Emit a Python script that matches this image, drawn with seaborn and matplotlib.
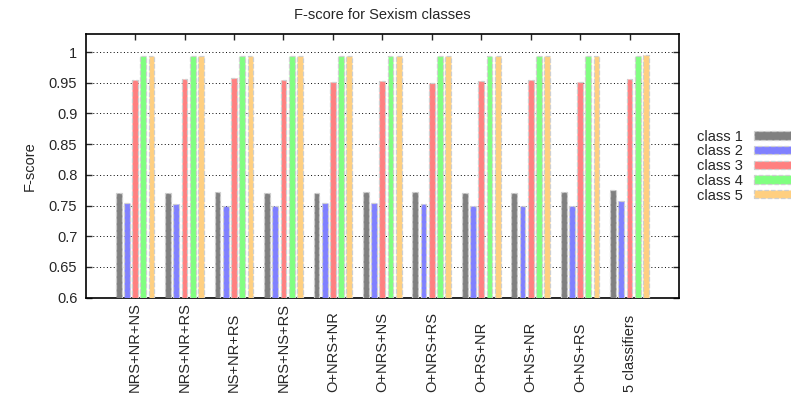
import matplotlib
matplotlib.use("Agg")
import matplotlib.pyplot as plt
import seaborn as sns
import pandas as pd
from matplotlib.patches import Patch

configs = ["NRS+NR+NS", "NRS+NR+RS", "NS+NR+RS", "NRS+NS+RS", "O+NRS+NR",
           "O+NRS+NS", "O+NRS+RS", "O+RS+NR", "O+NS+NR", "O+NS+RS", "5 classifiers"]
class1 = [0.770, 0.770, 0.772, 0.770, 0.770, 0.772, 0.772, 0.770, 0.770, 0.772, 0.775]
class2 = [0.754, 0.752, 0.750, 0.750, 0.755, 0.754, 0.752, 0.749, 0.750, 0.750, 0.757]
class3 = [0.955, 0.956, 0.958, 0.955, 0.951, 0.953, 0.950, 0.953, 0.955, 0.951, 0.956]
class4 = [0.994, 0.994, 0.994, 0.994, 0.994, 0.994, 0.994, 0.994, 0.994, 0.994, 0.994]
class5 = [0.994, 0.994, 0.994, 0.994, 0.994, 0.994, 0.994, 0.994, 0.994, 0.994, 0.996]
class_names = ["class 1", "class 2", "class 3", "class 4", "class 5"]
ytick_vals = [0.6, 0.65, 0.7, 0.75, 0.8, 0.85, 0.9, 0.95, 1.0]
ytick_labels = ["0.6", "0.65", "0.7", "0.75", "0.8", "0.85", "0.9", "0.95", "1"]
colors = ["#808080", "#8080ff", "#ff8080", "#80ff80", "#ffcf80"]

series = [class1, class2, class3, class4, class5]
rows = []
for name, vals in zip(class_names, series):
    for c, v in zip(configs, vals):
        rows.append({"config": c, "class": name, "fscore": v})
df = pd.DataFrame(rows)

sns.set_style("white")
plt.rcParams["font.family"] = ["Liberation Sans", "DejaVu Sans"]
plt.rcParams["font.size"] = 10.5

fig = plt.figure(figsize=(7.91, 4.0), dpi=100)
ax = fig.add_axes([0.1083, 0.2558, 0.7501, 0.66])

sns.barplot(data=df, x="config", y="fscore", hue="class", order=configs,
            hue_order=class_names, palette=colors, width=0.83, gap=0.3,
            edgecolor="#cfcfcf", linewidth=0.9, linestyle="--",
            saturation=1, legend=False, ax=ax, zorder=3)

ax.set_xlim(-1, len(configs))
ax.set_ylim(0.6, 1.03)
ax.set_yticks(ytick_vals)
ax.set_yticklabels(ytick_labels)
ax.set_xticks(range(len(configs)))
ax.set_xticklabels(configs, rotation=90, va="bottom", ha="center")
ax.tick_params(axis="x", direction="in", top=True, bottom=True, length=4.5,
               width=1, pad=68, labelsize=10.5)
ax.tick_params(axis="y", direction="in", left=True, right=True, length=4,
               width=1, pad=6, labelsize=10.5)
ax.yaxis.grid(True, linestyle=(0, (1, 2.5)), color="black", linewidth=0.7, zorder=0)
ax.xaxis.grid(False)
ax.set_axisbelow(True)
for s in ax.spines.values():
    s.set_visible(True)
    s.set_color("black")
    s.set_linewidth(1.2)

ax.set_xlabel("")
ax.set_ylabel("F-score", fontsize=10.5)
ax.yaxis.set_label_coords(-0.082, 0.5)
ax.set_title("F-score for Sexism classes", fontsize=10.5, pad=10.4)

handles = [Patch(facecolor=c, edgecolor="#cfcfcf", linestyle="--", linewidth=0.9)
           for c in colors]
leg = ax.legend(handles, class_names, loc="upper left",
                bbox_to_anchor=(0.881, 0.676), bbox_transform=fig.transFigure,
                frameon=False, markerfirst=False, handlelength=3.0,
                handleheight=0.5, handletextpad=0.75, labelspacing=0.05,
                borderaxespad=0, borderpad=0, fontsize=10.5)

fig.savefig("out.png", dpi=100)
